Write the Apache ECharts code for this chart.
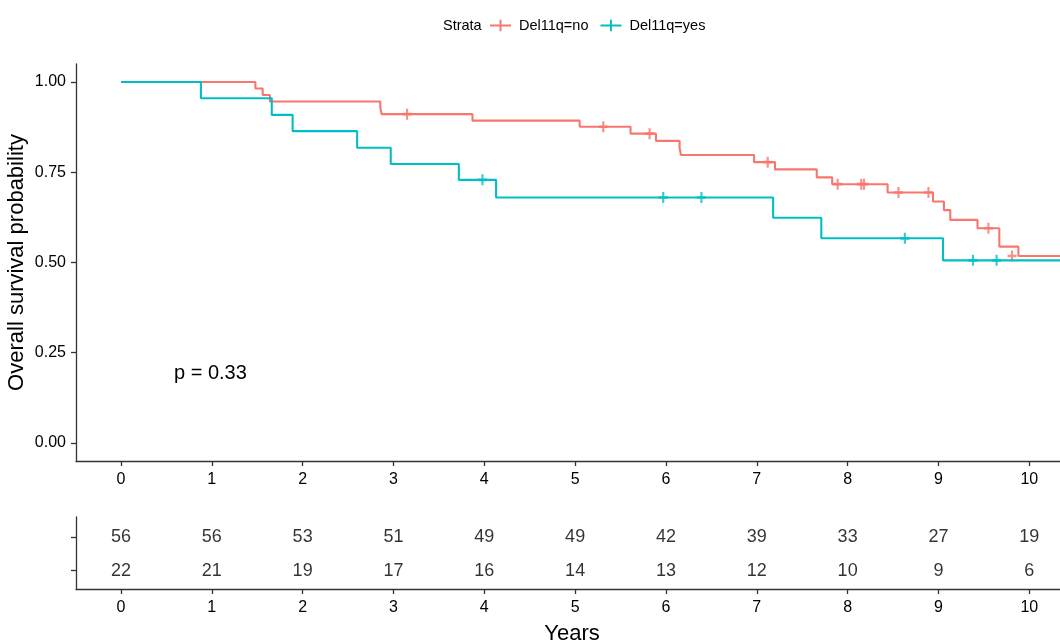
<!DOCTYPE html>
<html>
<head>
<meta charset="utf-8">
<script src="https://cdn.jsdelivr.net/npm/echarts@6/dist/echarts.min.js"></script>
<style>html,body{margin:0;padding:0;background:#fff;}#c{width:1060px;height:641px;}</style>
</head>
<body>
<div id="c"></div>
<script>
// Kaplan-Meier step points [years, survival]
var noSteps = [[0,1],[1.48,0.982],[1.56,0.964],[1.64,0.946],[2.855,0.929],[2.87,0.911],[3.87,0.893],[5.05,0.876],[5.61,0.857],[5.89,0.837],[6.15,0.817],[6.165,0.798],[6.97,0.778],[7.20,0.758],[7.66,0.736],[7.83,0.717],[8.44,0.694],[8.94,0.669],[9.06,0.645],[9.13,0.618],[9.43,0.595],[9.67,0.544],[9.88,0.518],[10.5,0.518]];
var yesSteps = [[0,1],[0.88,0.955],[1.66,0.909],[1.89,0.864],[2.60,0.818],[2.97,0.773],[3.72,0.729],[4.13,0.680],[7.18,0.624],[7.71,0.567],[9.05,0.506],[10.5,0.506]];
// censored observations [years, survival]
var noCensor = [[3.15,0.911],[5.31,0.876],[5.82,0.857],[7.12,0.778],[7.89,0.717],[8.15,0.717],[8.18,0.717],[8.56,0.694],[8.89,0.694],[9.55,0.595],[9.81,0.518]];
var yesCensor = [[3.98,0.729],[5.97,0.680],[6.39,0.680],[8.63,0.567],[9.38,0.506],[9.64,0.506]];
// number at risk
var riskTimes = [0,1,2,3,4,5,6,7,8,9,10];
var riskNo = [56,56,53,51,49,49,42,39,33,27,19];
var riskYes = [22,21,19,17,16,14,13,12,10,9,6];
var yTicks = [0,0.25,0.5,0.75,1];
var xTicks = [0,1,2,3,4,5,6,7,8,9,10];

var RED = '#F8766D', CYAN = '#00BFC4';
var FONT = 'Liberation Sans, Arial, sans-serif';
var AX = '#333333';
var plusPath = 'path://M3.8,0H6.2V3.8H10V6.2H6.2V10H3.8V6.2H0V3.8H3.8Z';
var legendIcon = 'path://M0,9H22V11H0Z M10,4H12V16H10Z';

function riskData(arr, row){ return riskTimes.map(function(t,i){ return [t,row,arr[i]]; }); }

var chart = echarts.init(document.getElementById('c'), null, {renderer:'canvas'});
chart.setOption({
  animation:false,
  textStyle:{fontFamily:FONT},
  grid:[
    {left:76, top:64, width:984, height:397, containLabel:false, outerBoundsMode:'none'},
    {left:76, top:517, width:984, height:72, containLabel:false, outerBoundsMode:'none'}
  ],
  legend:{
    left:490, top:18, padding:0, itemWidth:21, itemHeight:16, itemGap:12,
    textStyle:{fontSize:14.5, color:'#000', fontFamily:FONT, padding:[0,0,0,3]},
    data:[{name:'Del11q=no', icon:legendIcon},{name:'Del11q=yes', icon:legendIcon}]
  },
  graphic:[
    {type:'text', left:443, top:18, style:{text:'Strata', font:'14.5px Liberation Sans, Arial', fill:'#000'}},
    {type:'text', left:174, top:363, style:{text:'p = 0.33', font:'20px Liberation Sans, Arial', fill:'#000'}}
  ],
  xAxis:[
    {gridIndex:0, type:'value', min:-0.495, max:10.338,
     axisLine:{onZero:false, lineStyle:{color:AX, width:1.3}},
     axisTick:{length:5, lineStyle:{color:AX, width:1.3}, customValues:xTicks},
     axisLabel:{customValues:xTicks, fontSize:16, color:'#000', margin:11, fontFamily:FONT},
     splitLine:{show:false}},
    {gridIndex:1, type:'value', min:-0.495, max:10.338,
     name:'Years', nameLocation:'middle', nameGap:34, nameMoveOverlap:false,
     nameTextStyle:{fontSize:22, color:'#000', fontFamily:FONT, verticalAlign:'top', padding:[0,0,0,8]},
     axisLine:{onZero:false, lineStyle:{color:AX, width:1.3}},
     axisTick:{length:5, lineStyle:{color:AX, width:1.3}, customValues:xTicks},
     axisLabel:{customValues:xTicks, fontSize:16, color:'#000', margin:11, fontFamily:FONT},
     splitLine:{show:false}}
  ],
  yAxis:[
    {gridIndex:0, type:'value', min:-0.05, max:1.05,
     name:'Overall survival probability', nameLocation:'middle', nameGap:48, nameMoveOverlap:false,
     nameTextStyle:{fontSize:22, color:'#000', fontFamily:FONT},
     axisLine:{show:true, onZero:false, lineStyle:{color:AX, width:1.3}},
     axisTick:{show:true, length:5, lineStyle:{color:AX, width:1.3}, customValues:yTicks},
     axisLabel:{customValues:yTicks, fontSize:16, color:'#000', margin:10, fontFamily:FONT,
       formatter:function(v){return v.toFixed(2);}},
     splitLine:{show:false}},
    {gridIndex:1, type:'value', min:0.45, max:2.6,
     axisLine:{show:true, onZero:false, lineStyle:{color:AX, width:1.3}},
     axisTick:{show:true, length:5, lineStyle:{color:AX, width:1.3}, customValues:[1,2]},
     axisLabel:{show:false},
     splitLine:{show:false}}
  ],
  series:[
    {name:'Del11q=no', type:'line', xAxisIndex:0, yAxisIndex:0, step:'end', data:noSteps,
     showSymbol:false, symbol:'none', color:RED, lineStyle:{color:RED, width:2.1}, z:2},
    {name:'Del11q=no censor', type:'scatter', xAxisIndex:0, yAxisIndex:0, data:noCensor,
     symbol:plusPath, symbolSize:[9,11], itemStyle:{color:RED}, z:3},
    {name:'Del11q=yes', type:'line', xAxisIndex:0, yAxisIndex:0, step:'end', data:yesSteps,
     showSymbol:false, symbol:'none', color:CYAN, lineStyle:{color:CYAN, width:2.1}, z:4},
    {name:'Del11q=yes censor', type:'scatter', xAxisIndex:0, yAxisIndex:0, data:yesCensor,
     symbol:plusPath, symbolSize:[9,11], itemStyle:{color:CYAN}, z:5},
    {name:'risk no', type:'scatter', xAxisIndex:1, yAxisIndex:1, data:riskData(riskNo,2),
     symbolSize:0, label:{show:true, position:'inside', fontSize:18, color:'#000', fontFamily:FONT,
       formatter:function(p){return String(p.value[2]);}}},
    {name:'risk yes', type:'scatter', xAxisIndex:1, yAxisIndex:1, data:riskData(riskYes,1),
     symbolSize:0, label:{show:true, position:'inside', fontSize:18, color:'#000', fontFamily:FONT,
       formatter:function(p){return String(p.value[2]);}}}
  ]
});
</script>
</body>
</html>
